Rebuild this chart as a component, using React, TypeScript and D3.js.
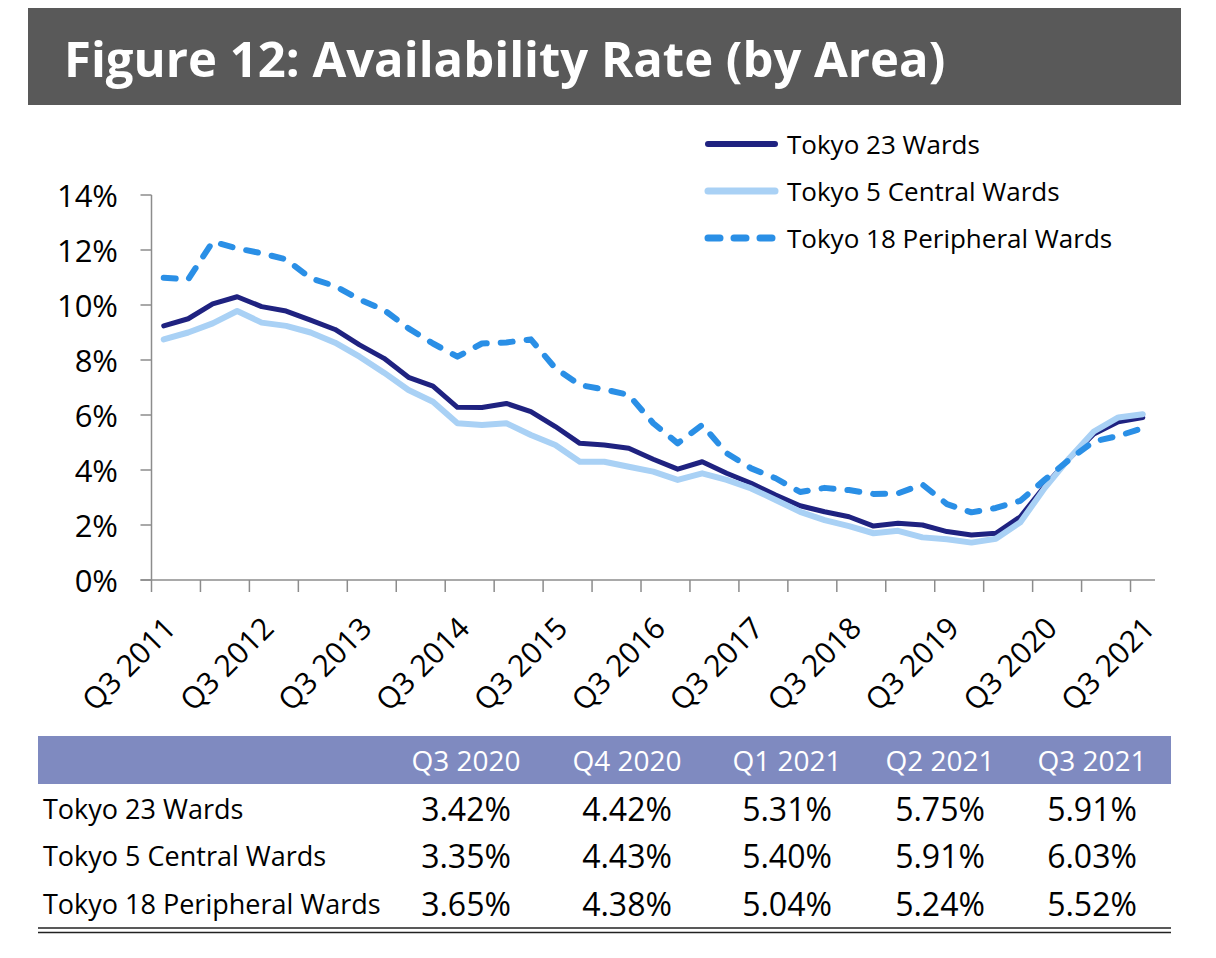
import React from "react";
import * as d3 from "d3";

const quarters = [
  "Q3 2011", "Q4 2011", "Q1 2012", "Q2 2012", "Q3 2012", "Q4 2012", "Q1 2013", "Q2 2013",
  "Q3 2013", "Q4 2013", "Q1 2014", "Q2 2014", "Q3 2014", "Q4 2014", "Q1 2015", "Q2 2015",
  "Q3 2015", "Q4 2015", "Q1 2016", "Q2 2016", "Q3 2016", "Q4 2016", "Q1 2017", "Q2 2017",
  "Q3 2017", "Q4 2017", "Q1 2018", "Q2 2018", "Q3 2018", "Q4 2018", "Q1 2019", "Q2 2019",
  "Q3 2019", "Q4 2019", "Q1 2020", "Q2 2020", "Q3 2020", "Q4 2020", "Q1 2021", "Q2 2021",
  "Q3 2021",
];

const tokyo23 = [
  9.24, 9.5, 10.04, 10.3, 9.94, 9.78, 9.45, 9.11, 8.55, 8.06, 7.37, 7.05, 6.28, 6.27, 6.42,
  6.12, 5.58, 4.97, 4.91, 4.79, 4.39, 4.03, 4.3, 3.88, 3.52, 3.09, 2.7, 2.48, 2.3, 1.96, 2.06,
  2.0, 1.76, 1.64, 1.7, 2.3, 3.42, 4.42, 5.31, 5.75, 5.91,
];

const tokyo5 = [
  8.75, 9.0, 9.33, 9.78, 9.36, 9.24, 9.0, 8.63, 8.12, 7.54, 6.91, 6.48, 5.7, 5.64, 5.7, 5.27,
  4.91, 4.3, 4.3, 4.12, 3.94, 3.64, 3.88, 3.64, 3.33, 2.91, 2.48, 2.18, 1.96, 1.7, 1.79, 1.55,
  1.48, 1.36, 1.5, 2.1, 3.35, 4.43, 5.4, 5.91, 6.03,
];

const tokyo18 = [
  10.99, 10.93, 12.3, 12.06, 11.88, 11.66, 10.97, 10.69, 10.2, 9.82, 9.15, 8.6, 8.12, 8.6,
  8.64, 8.75, 7.7, 7.09, 6.93, 6.73, 5.7, 4.97, 5.64, 4.61, 4.06, 3.7, 3.2, 3.35, 3.27, 3.13,
  3.15, 3.47, 2.76, 2.46, 2.62, 2.88, 3.65, 4.38, 5.04, 5.24, 5.52,
];

const yTicks = [0, 2, 4, 6, 8, 10, 12, 14];

const seriesNames = ["Tokyo 23 Wards", "Tokyo 5 Central Wards", "Tokyo 18 Peripheral Wards"];

const tableCols = ["Q3 2020", "Q4 2020", "Q1 2021", "Q2 2021", "Q3 2021"];
const table23 = ["3.42%", "4.42%", "5.31%", "5.75%", "5.91%"];
const table5 = ["3.35%", "4.43%", "5.40%", "5.91%", "6.03%"];
const table18 = ["3.65%", "4.38%", "5.04%", "5.24%", "5.52%"];

const W = 1216;
const H = 958;
const FONT = "'Open Sans', 'Noto Sans', sans-serif";

const COLORS = { dark: "#1F2280", light: "#A9D1F5", dash: "#2A8FE6" };
const AXIS = "#8C8C8C";

export default function App() {
  const plotLeft = 151.5;
  const plotRight = 1155;
  const x = d3.scaleBand<string>().domain(quarters).range([plotLeft, plotRight]).padding(0);
  const y = d3.scaleLinear().domain([0, 14]).range([580, 195]);
  const xc = (q: string) => (x(q) as number) + x.bandwidth() / 2;

  const line = d3
    .line<number>()
    .x((_, i) => xc(quarters[i]))
    .y((d) => y(d));

  const series = [
    { name: seriesNames[0], data: tokyo23, color: COLORS.dark, width: 5, dash: undefined as string | undefined },
    { name: seriesNames[1], data: tokyo5, color: COLORS.light, width: 6, dash: undefined as string | undefined },
    { name: seriesNames[2], data: tokyo18, color: COLORS.dash, width: 6, dash: "12 14" },
  ];

  const xTickIdx = d3.range(0, quarters.length, 2);
  const labelIdx = d3.range(0, quarters.length, 4);

  const colCenters = [466, 627, 787, 940, 1092];
  const rowY = [808, 855, 903];
  const rows = [
    { name: seriesNames[0], vals: table23 },
    { name: seriesNames[1], vals: table5 },
    { name: seriesNames[2], vals: table18 },
  ];

  return (
    <div style={{ position: "absolute", left: 0, top: 0, width: W, height: H, background: "#fff" }}>
      <svg width={W} height={H} style={{ display: "block", fontFamily: FONT }}>
        {/* Title bar */}
        <rect x={28} y={8} width={1153} height={97} fill="#595959" />
        <text x={64} y={58} fill="#fff" fontSize={49} fontWeight={700} dominantBaseline="central">
          Figure 12: Availability Rate (by Area)
        </text>

        {/* Legend */}
        {series.map((s, i) => (
          <g key={s.name} transform={`translate(0, ${144 + i * 47})`}>
            <line
              x1={708}
              x2={775}
              y1={0}
              y2={0}
              stroke={s.color}
              strokeWidth={s.width + 1}
              strokeLinecap="round"
              strokeDasharray={s.dash}
            />
            <text x={787} y={0} fontSize={26} fill="#000" dominantBaseline="central">
              {s.name}
            </text>
          </g>
        ))}

        {/* Y axis */}
        <line x1={plotLeft} x2={plotLeft} y1={y(14)} y2={y(0)} stroke={AXIS} strokeWidth={1.5} />
        {yTicks.map((t) => (
          <g key={t}>
            <line x1={plotLeft - 11} x2={plotLeft} y1={y(t)} y2={y(t)} stroke={AXIS} strokeWidth={1.5} />
            <text x={118} y={y(t)} fontSize={31} textAnchor="end" dominantBaseline="central" fill="#000">
              {t}%
            </text>
          </g>
        ))}

        {/* X axis */}
        <line x1={plotLeft - 11} x2={plotRight} y1={y(0)} y2={y(0)} stroke={AXIS} strokeWidth={1.5} />
        {xTickIdx.map((i) => (
          <line
            key={i}
            x1={x(quarters[i]) as number}
            x2={x(quarters[i]) as number}
            y1={y(0)}
            y2={y(0) + 12}
            stroke={AXIS}
            strokeWidth={1.5}
          />
        ))}
        {labelIdx.map((i) => (
          <text
            key={i}
            transform={`translate(${xc(quarters[i]) + 14}, ${y(0) + 50}) rotate(-45)`}
            fontSize={30}
            textAnchor="end"
            fill="#000"
          >
            {quarters[i]}
          </text>
        ))}

        {/* Lines */}
        {series.map((s) => (
          <path
            key={s.name}
            d={line(s.data) || ""}
            fill="none"
            stroke={s.color}
            strokeWidth={s.width}
            strokeLinejoin="round"
            strokeLinecap="round"
            strokeDasharray={s.dash}
          />
        ))}

        {/* Table */}
        <rect x={38} y={736} width={1133} height={48} fill="#7F8AC0" />
        {tableCols.map((c, i) => (
          <text key={c} x={colCenters[i]} y={760} fontSize={28} fill="#fff" textAnchor="middle" dominantBaseline="central">
            {c}
          </text>
        ))}
        {rows.map((r, ri) => (
          <g key={r.name}>
            <text x={43} y={rowY[ri]} fontSize={27} fill="#000" dominantBaseline="central">
              {r.name}
            </text>
            {r.vals.map((v, i) => (
              <text key={i} x={colCenters[i]} y={rowY[ri]} fontSize={32} fill="#000" textAnchor="middle" dominantBaseline="central">
                {v}
              </text>
            ))}
          </g>
        ))}
        <line x1={38} x2={1171} y1={928} y2={928} stroke="#222" strokeWidth={1.5} />
        <line x1={38} x2={1171} y1={932.5} y2={932.5} stroke="#222" strokeWidth={1.5} />
      </svg>
    </div>
  );
}
